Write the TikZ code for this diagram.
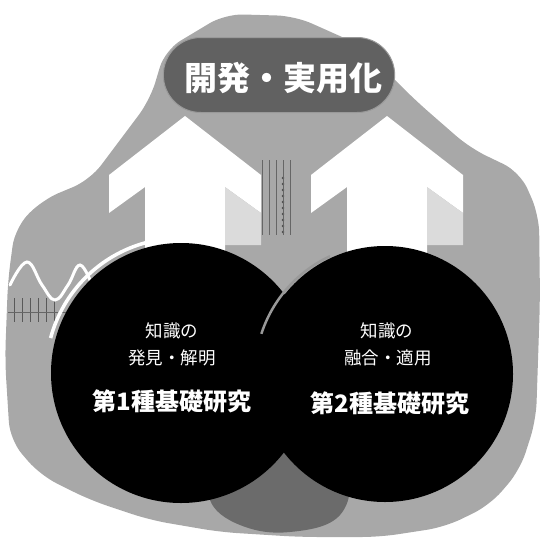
\documentclass[tikz,border=0pt]{standalone}
\usepackage{fontspec}
\newfontfamily\jp{Noto Sans CJK JP}
\usetikzlibrary{shapes.misc}
\tikzset{
  bigarrow/.style={fill=white, draw=none},
  disc/.style={circle, fill=black, draw=none, minimum size=260pt, inner sep=0pt},
  smalltxt/.style={text=white, font=\jp\fontsize{17.5}{21}\selectfont, align=center, inner sep=0pt},
  bigtxt/.style={text=white, font=\jp\bfseries\fontsize{24}{27}\selectfont, inner sep=0pt},
  titlebox/.style={rounded rectangle, fill=black!62, draw=black!40, line width=1pt, minimum width=238pt, minimum height=75pt},
}
\begin{document}
\begin{tikzpicture}[x=1pt,y=-1pt]
\useasboundingbox (0,0) rectangle (543,538);
% background collage blob
\fill[black!34, rounded corners=18pt] (225,14) -- (295,16) -- (360,45) -- (415,100)
 -- (470,148) -- (520,172) -- (539,215) -- (540,300) -- (536,420) -- (520,470)
 -- (490,505) -- (445,527) -- (380,537) -- (300,537) -- (220,532) -- (150,520)
 -- (90,500) -- (40,475) -- (10,440) -- (5,360) -- (8,280) -- (15,228)
 -- (42,200) -- (90,180) -- (120,140) -- (150,100) -- (165,50) -- cycle;
% darker patch at the bottom centre
\fill[black!58] plot[smooth cycle, tension=0.7] coordinates {
 (220,470) (260,450) (300,445) (345,470) (340,515) (290,532) (240,525) (210,500)};
% dotted column between arrows
\foreach \i in {0,...,9}{
  \fill[black!70] (283,178+\i*6) circle[radius=1.3pt];
}
\foreach \i in {0,...,4}{
  \draw[black!60, line width=0.6pt] (262+\i*7,160) -- (262+\i*7,235);
}
% left bar pattern
\foreach \i in {0,...,5}{
  \draw[black!65, line width=1pt] (14+\i*8,298) -- (14+\i*8,322);
}
\draw[black!60, line width=0.8pt] (8,312) -- (75,312);
% sine wave
\draw[white, line width=3pt, line cap=round] plot[smooth, tension=0.7] coordinates {
 (10,285) (27,262) (42,285) (55,300) (68,285) (80,265) (92,285)};
% white arrows
\fill[bigarrow] (185,116) -- (109,175) -- (109,213) -- (145,187) -- (145,270)
  -- (225,270) -- (225,187) -- (261,213) -- (261,175) -- cycle;
\fill[bigarrow] (387,116) -- (311,175) -- (311,213) -- (347,187) -- (347,270)
  -- (427,270) -- (427,187) -- (463,213) -- (463,175) -- cycle;
\fill[black!14] (225,187) -- (261,213) -- (261,245) -- (225,245) -- cycle;
\fill[black!14] (427,187) -- (463,213) -- (463,245) -- (427,245) -- cycle;
% title box
\node[titlebox] (title) at (279,75) {};
\node[text=white, font=\jp\bfseries\fontsize{33}{36}\selectfont, inner sep=0pt] (titletxt) at (283,78) {開発・実用化};
% circles
\node[disc] (c1) at (181,373) {};
\draw[white, line width=3.5pt] (181,373) ++(195:135) arc[start angle=195, end angle=255, radius=135];
\node[disc, minimum size=256pt] (c2) at (385,374) {};
\draw[black!40, line width=2.5pt] (385,374) ++(198:130) arc[start angle=198, end angle=245, radius=130];
% texts
\node[smalltxt] (t1) at (172,331) {知識の};
\node[smalltxt] (t2) at (172,358) {発見・解明};
\node[bigtxt] (t3) at (172,401) {第1種基礎研究};
\node[smalltxt] (t4) at (387,331) {知識の};
\node[smalltxt] (t5) at (388,358) {融合・適用};
\node[bigtxt] (t6) at (390,403) {第2種基礎研究};
\end{tikzpicture}
\end{document}
